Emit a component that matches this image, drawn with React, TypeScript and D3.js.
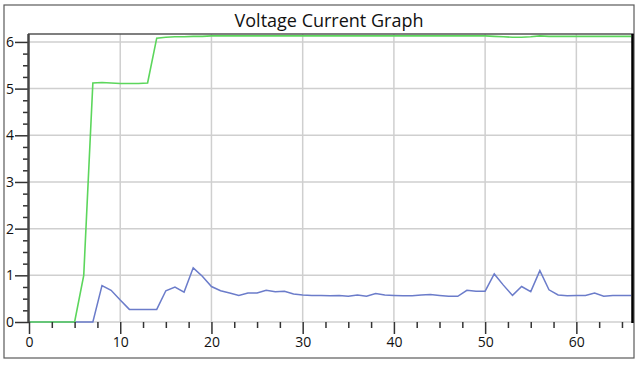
import { useEffect, useRef } from 'react';
import { axisBottom, axisLeft, line, range, scaleLinear, select } from 'd3';

const xValues = range(0, 67);
const voltage = [
  0, 0, 0, 0, 0, 0, 1.0, 5.12, 5.13, 5.12, 5.11, 5.11, 5.11, 5.12, 6.08, 6.1, 6.11, 6.11, 6.12, 6.12,
  6.13, 6.13, 6.13, 6.13, 6.13, 6.13, 6.13, 6.13, 6.13, 6.13, 6.13, 6.13, 6.13, 6.13, 6.13, 6.13, 6.13, 6.13, 6.13, 6.13,
  6.13, 6.13, 6.13, 6.13, 6.13, 6.13, 6.13, 6.13, 6.13, 6.13, 6.13, 6.12, 6.11, 6.1, 6.1, 6.11, 6.13, 6.12, 6.12, 6.12,
  6.12, 6.12, 6.12, 6.12, 6.12, 6.12, 6.12,
];
const current = [
  0, 0, 0, 0, 0, 0, 0, 0, 0.78, 0.68, 0.47, 0.27, 0.27, 0.27, 0.27, 0.67, 0.75, 0.64, 1.16, 0.98,
  0.76, 0.67, 0.62, 0.57, 0.62, 0.62, 0.68, 0.65, 0.66, 0.6, 0.58, 0.57, 0.57, 0.56, 0.57, 0.55, 0.58, 0.55, 0.61, 0.58,
  0.57, 0.56, 0.56, 0.58, 0.59, 0.57, 0.55, 0.55, 0.68, 0.66, 0.66, 1.03, 0.79, 0.57, 0.76, 0.65, 1.1, 0.69, 0.58, 0.56,
  0.57, 0.57, 0.62, 0.55, 0.57, 0.57, 0.57,
];
const xTicks = [0, 10, 20, 30, 40, 50, 60];
const yTicks = [0, 1, 2, 3, 4, 5, 6];
const title = 'Voltage Current Graph';

export default function App() {
  const svgRef = useRef<SVGSVGElement>(null);

  useEffect(() => {
    const width = 640;
    const height = 365;
    const plot = { left: 29, right: 632, top: 34, bottom: 322 };
    const font = '"Open Sans", "Noto Sans", sans-serif';

    const svg = select(svgRef.current);
    svg.selectAll('*').remove();
    svg.attr('width', width).attr('height', height);

    svg.append('rect').attr('width', width).attr('height', height).attr('fill', '#fff');

    const x = scaleLinear().domain([0, 66.1]).range([plot.left, plot.right]);
    const y = scaleLinear().domain([0, 6.17]).range([plot.bottom, plot.top]);

    // grid
    const grid = svg.append('g').attr('stroke', '#cfcfcf').attr('stroke-width', 1.5);
    grid
      .selectAll('line.gx')
      .data(xTicks.filter((d) => d > 0))
      .enter()
      .append('line')
      .attr('x1', (d) => x(d))
      .attr('x2', (d) => x(d))
      .attr('y1', plot.top)
      .attr('y2', plot.bottom);
    grid
      .selectAll('line.gy')
      .data(yTicks)
      .enter()
      .append('line')
      .attr('x1', plot.left)
      .attr('x2', plot.right)
      .attr('y1', (d) => y(d))
      .attr('y2', (d) => y(d));

    // series
    const path = line<number>()
      .x((_, i) => x(xValues[i]))
      .y((d) => y(d));

    svg
      .append('path')
      .datum(current)
      .attr('fill', 'none')
      .attr('stroke', '#6b7cca')
      .attr('stroke-width', 1.5)
      .attr('d', path);

    svg
      .append('path')
      .datum(voltage)
      .attr('fill', 'none')
      .attr('stroke', '#5cd65c')
      .attr('stroke-width', 1.6)
      .attr('d', path);

    // frame
    svg
      .append('rect')
      .attr('x', 4)
      .attr('y', 5)
      .attr('width', 630)
      .attr('height', 353)
      .attr('fill', 'none')
      .attr('stroke', '#5a5a5a')
      .attr('stroke-width', 1.2);
    svg
      .append('line')
      .attr('x1', plot.left - 1)
      .attr('x2', 634)
      .attr('y1', plot.top)
      .attr('y2', plot.top)
      .attr('stroke', '#555')
      .attr('stroke-width', 1.5);
    svg
      .append('line')
      .attr('x1', plot.right + 0.5)
      .attr('x2', plot.right + 0.5)
      .attr('y1', plot.top)
      .attr('y2', plot.bottom + 1)
      .attr('stroke', '#000')
      .attr('stroke-width', 2.5);

    // title
    svg
      .append('text')
      .attr('x', 329)
      .attr('y', 27)
      .attr('text-anchor', 'middle')
      .attr('font-family', font)
      .attr('font-size', 18)
      .attr('fill', '#111')
      .text(title);

    // x axis
    const xMinor = range(0, 66.1, 2.5).filter((d) => d % 10 !== 0);
    const xMinorAxis = svg.append('g').attr('transform', `translate(0,${plot.bottom})`);
    xMinorAxis
      .call(axisBottom(x).tickValues(xMinor).tickSize(6).tickFormat(() => ''))
      .call((g) => g.select('.domain').remove());
    const xAxis = svg.append('g').attr('transform', `translate(0,${plot.bottom})`);
    xAxis
      .call(axisBottom(x).tickValues(xTicks).tickSize(12).tickPadding(3).tickFormat((d) => String(d)))
      .call((g) => g.select('.domain').remove());
    xAxis
      .selectAll('text')
      .attr('font-family', font)
      .attr('font-size', 14)
      .attr('fill', '#111');

    // y axis
    const yMinor = range(0, 6.17, 0.25).filter((d) => d % 1 !== 0);
    const yMinorAxis = svg.append('g').attr('transform', `translate(${plot.left},0)`);
    yMinorAxis
      .call(axisLeft(y).tickValues(yMinor).tickSize(6).tickFormat(() => ''))
      .call((g) => g.select('.domain').remove());
    const yAxis = svg.append('g').attr('transform', `translate(${plot.left},0)`);
    yAxis
      .call(axisLeft(y).tickValues(yTicks).tickSize(14).tickPadding(1).tickFormat((d) => String(d)))
      .call((g) => g.select('.domain').remove());
    yAxis
      .selectAll('text')
      .attr('text-anchor', 'start')
      .attr('x', 6 - plot.left)
      .attr('font-family', font)
      .attr('font-size', 14)
      .attr('fill', '#111');
    svg.selectAll('g.tick line').attr('stroke', '#333').attr('stroke-width', 1.5);
    svg
      .append('line')
      .attr('x1', plot.left - 0.5)
      .attr('x2', plot.left - 0.5)
      .attr('y1', plot.top)
      .attr('y2', plot.bottom)
      .attr('stroke', '#444')
      .attr('stroke-width', 2.5);
  }, []);

  return (
    <div style={{ position: 'absolute', left: 0, top: 0 }}>
      <svg ref={svgRef} style={{ display: 'block' }}></svg>
    </div>
  );
}
